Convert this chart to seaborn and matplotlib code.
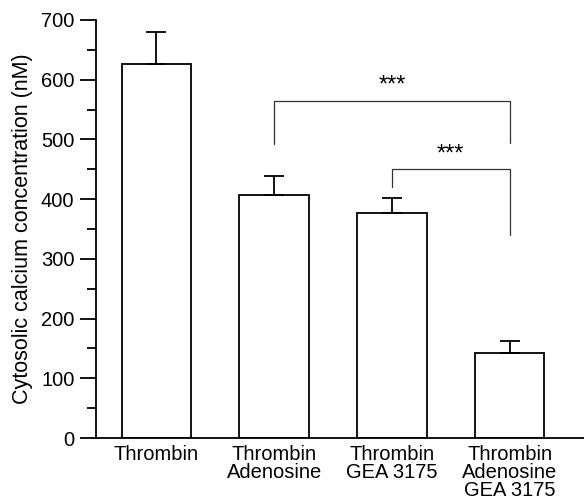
import numpy as np
import pandas as pd
import seaborn as sns
import matplotlib.pyplot as plt

# datos
groups = ["Thrombin", "Thrombin\nAdenosine", "Thrombin\nGEA 3175", "Thrombin\nAdenosine\nGEA 3175"]
calcium = [627, 407, 376, 142]
sem = [53, 32, 26, 21]

# comparaciones (grupo a, grupo b, altura, patas, texto, y del texto)
brackets = [(1, 3, 564, (493, 494), "***", 590),
            (2, 3, 450, (420, 340), "***", 475)]

sns.set_style("ticks")
plt.rcParams["font.family"] = ["Liberation Sans", "DejaVu Sans"]
plt.rcParams.update({"text.color": "black", "axes.labelcolor": "black",
                     "xtick.color": "black", "ytick.color": "black",
                     "axes.edgecolor": "black"})

df = pd.DataFrame({"group": groups, "calcium": calcium})

fig = plt.figure(figsize=(5.84, 5.0), dpi=100)
ax = fig.add_axes([96 / 584, 62 / 500, 488 / 584, 418 / 500])

sns.barplot(data=df, x="group", y="calcium", color="white", edgecolor="black",
            linewidth=1.3, width=0.59, errorbar=None, ax=ax)

x = np.arange(len(groups))
ax.errorbar(x, calcium, yerr=[np.zeros(len(sem)), sem], fmt="none",
            ecolor="black", elinewidth=1.3, capsize=7, capthick=1.3)

# corchetes de significancia
for a, b, h, legs, txt, ty in brackets:
    ax.plot([a, a, b, b], [legs[0], h, h, legs[1]], color="#333333", lw=0.9)
    ax.text((a + b) / 2, ty, txt, ha="center", va="center", fontsize=17)

ax.set_xlim(-0.514, 3.632)
ax.set_ylim(0, 700)
ax.set_yticks(range(0, 701, 100))
ax.set_yticks(range(50, 700, 100), minor=True)
ax.tick_params(axis="y", which="major", length=11.5, width=1.3, labelsize=14.5, pad=4)
ax.tick_params(axis="y", which="minor", length=6.5, width=1.3)
ax.tick_params(axis="x", length=0, labelsize=14.5, pad=5)
for lab in ax.get_xticklabels():
    lab.set_linespacing(0.95)
for s in ["top", "right"]:
    ax.spines[s].set_visible(False)
for s in ["left", "bottom"]:
    ax.spines[s].set_linewidth(1.3)

ax.set_xlabel("")
ax.set_ylabel("Cytosolic calcium concentration (nM)", fontsize=15.5, labelpad=6)

fig.savefig("out.png", dpi=100)
